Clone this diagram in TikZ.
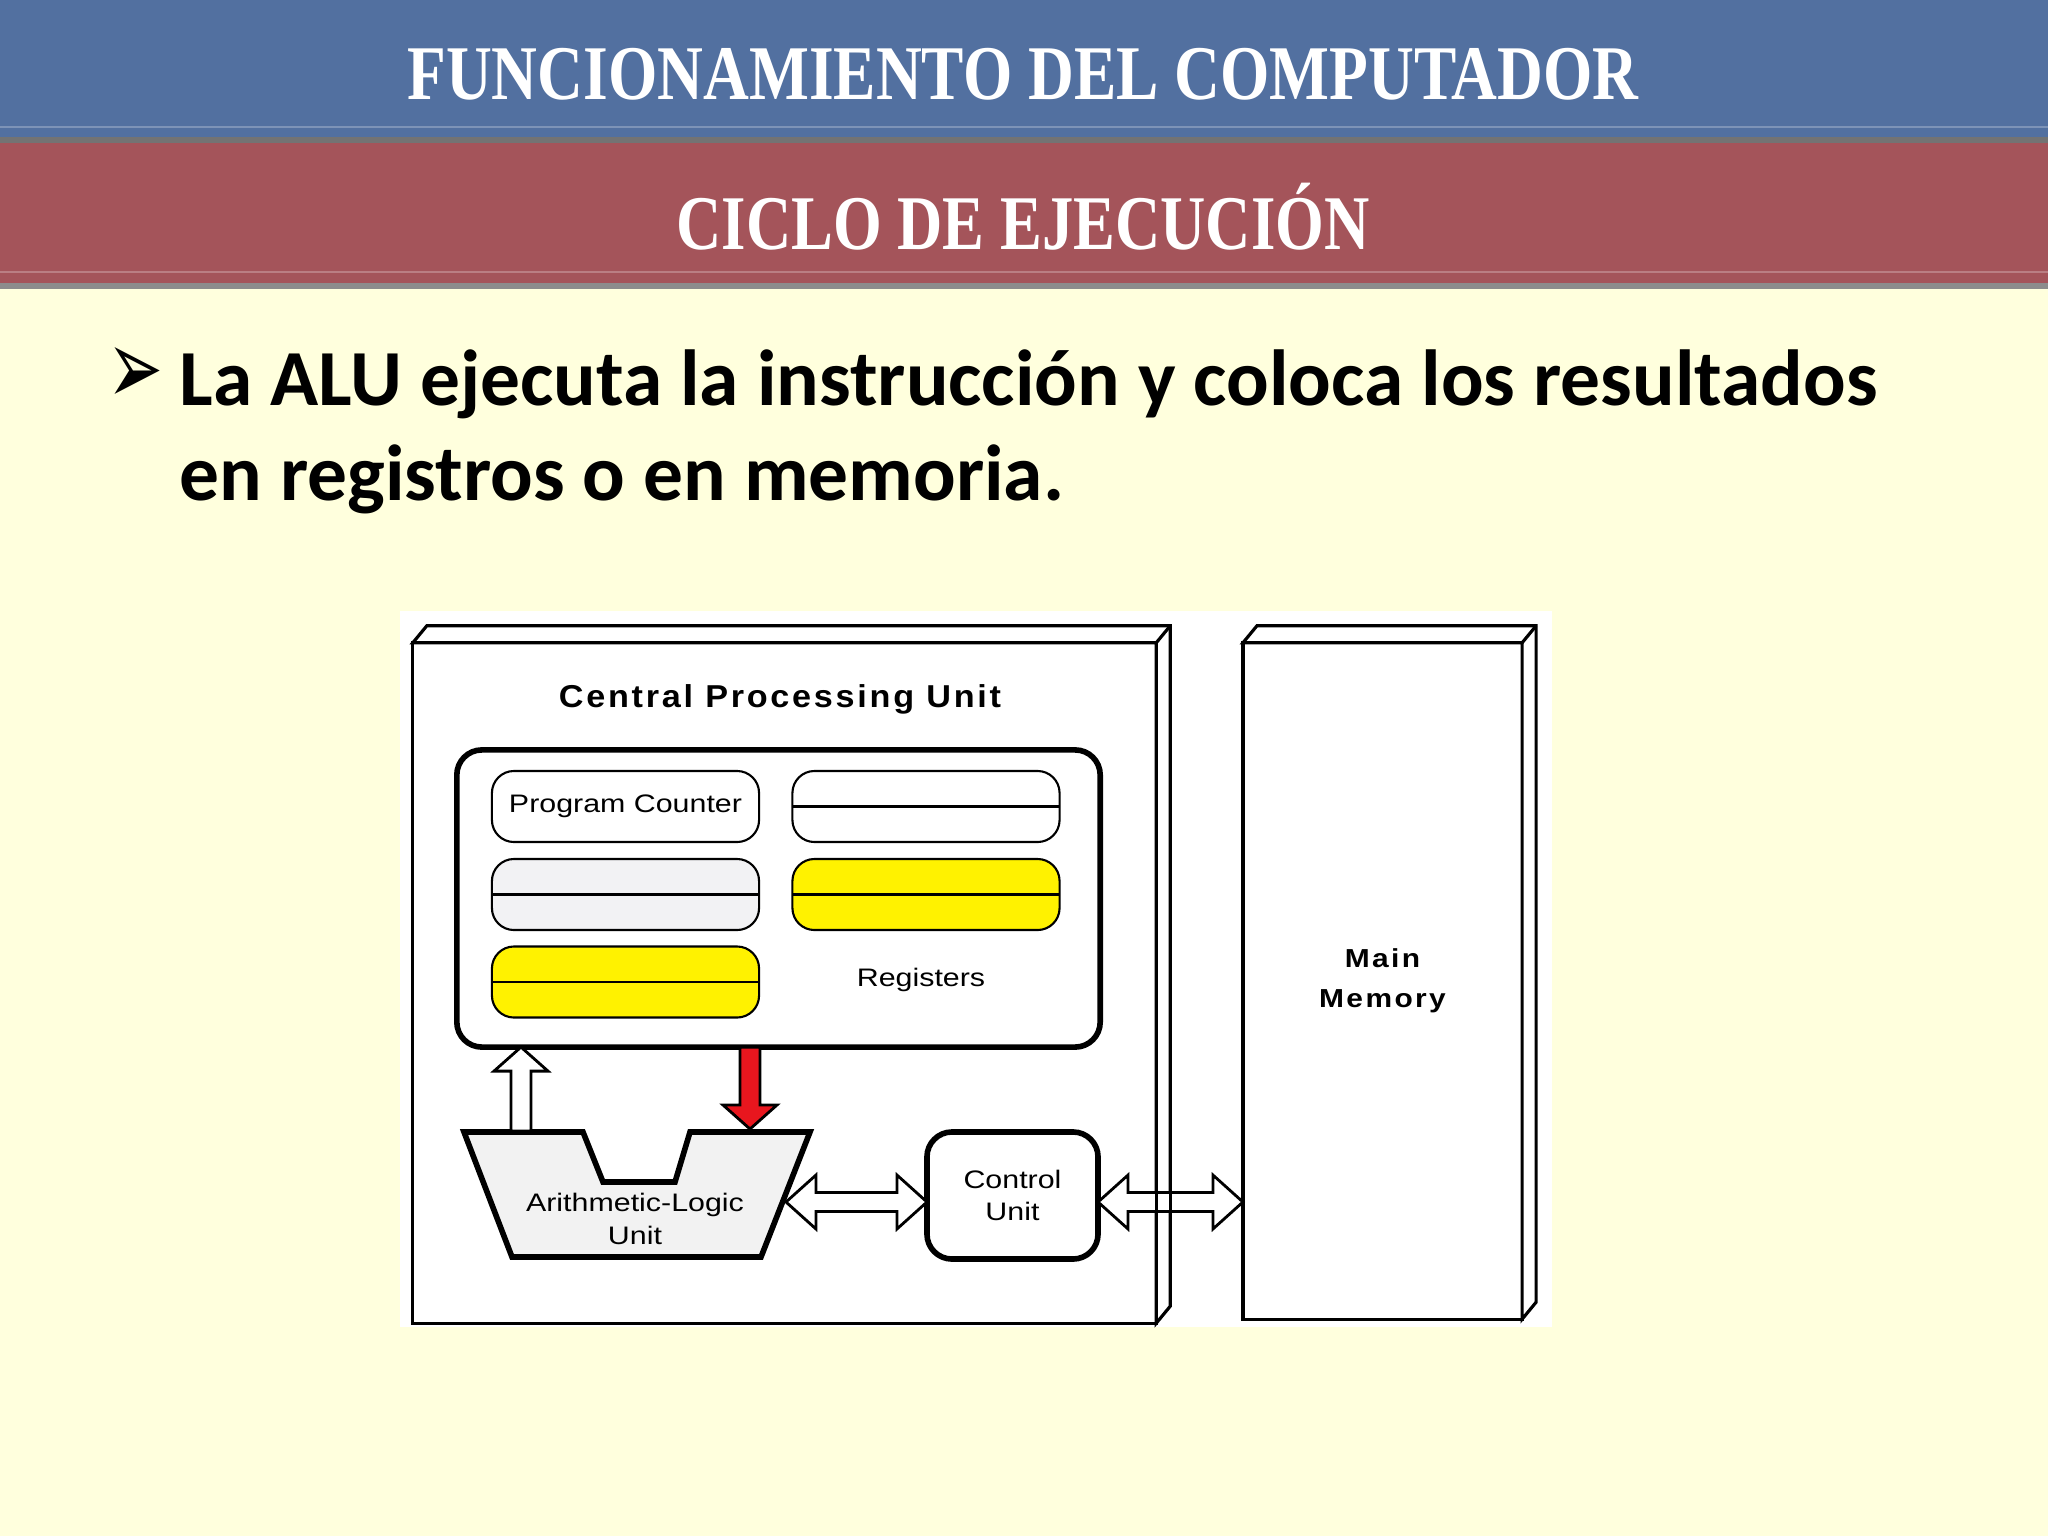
\documentclass[tikz,border=0pt]{standalone}
\usepackage{fontspec}
\setmainfont{Carlito}
\newfontfamily\diagfont{Liberation Sans}
\newfontfamily\spacedfont[LetterSpace=8]{Liberation Sans}
\newfontfamily\titlefont{Liberation Serif}
\newfontfamily\symbfont{DejaVu Sans}
\usetikzlibrary{calc}
\definecolor{slide}{RGB}{255,255,221}
\definecolor{bandblue}{RGB}{82,112,160}
\definecolor{bandred}{RGB}{164,84,90}
\definecolor{regyellow}{RGB}{255,242,0}
\definecolor{reggray}{RGB}{242,242,244}
\definecolor{alugray}{RGB}{242,242,242}
\definecolor{busred}{RGB}{232,22,30}
\tikzset{
  boxline/.style={line width=0.9pt, line join=miter},
  arrowline/.style={line width=0.8pt, line join=miter},
  facebox/.style={boxline, draw, fill=white, outer sep=0pt, inner sep=0pt},
  regpill/.style={draw, line width=0.6pt, rounded corners=0.22cm, minimum width=2.67cm, minimum height=0.71cm, outer sep=0pt, inner sep=0pt},
  lbl/.style={font=\diagfont\fontsize{7.2}{9.3}\selectfont, align=center, xscale=1.2, inner sep=0pt},
  titletext/.style={text=white, font=\titlefont\bfseries\fontsize{22}{22}\selectfont, inner sep=0pt}
}
% depth of a 3d box drawn behind its front face
\newcommand{\drawdepth}[1]{
  \draw[boxline, fill=white] (#1.north west) -- ++(14,-17) -- ($(#1.north east)+(14,-17)$) -- ($(#1.south east)+(14,-17)$) -- (#1.south east) -- (#1.north east) -- cycle;
  \draw[boxline] (#1.north east) -- ++(14,-17);
}
% hollow block arrow from #2 to #3
\newcommand{\blockarrow}[3][white]{
  \path ($(#3)!0.24cm!(#2)$) coordinate (hb);
  \draw[arrowline, fill=#1] ($(#2)!0.1cm!90:(#3)$) -- ($(hb)!0.1cm!90:(#3)$) -- ($(hb)!0.27cm!90:(#3)$) -- (#3) -- ($(hb)!0.27cm!-90:(#3)$) -- ($(hb)!0.1cm!-90:(#3)$) -- ($(#2)!0.1cm!-90:(#3)$) -- cycle;
}
\newcommand{\dblockarrow}[2]{
  \path ($(#1)!0.3cm!(#2)$) coordinate (ha) ($(#2)!0.3cm!(#1)$) coordinate (hb);
  \draw[arrowline, fill=white] (#1) -- ($(ha)!0.27cm!90:(#2)$) -- ($(ha)!0.095cm!90:(#2)$) -- ($(hb)!0.095cm!-90:(#1)$) -- ($(hb)!0.27cm!-90:(#1)$) -- (#2) -- ($(hb)!0.27cm!90:(#1)$) -- ($(hb)!0.095cm!90:(#1)$) -- ($(ha)!0.095cm!-90:(#2)$) -- ($(ha)!0.27cm!-90:(#2)$) -- cycle;
}

\begin{document}
\begin{tikzpicture}[x=0.01cm, y=-0.01cm]
\fill[slide] (0,0) rectangle (2048,1536);
\useasboundingbox (0,0) rectangle (2048,1536);
% header bands
\fill[bandblue] (0,0) rectangle (2048,141);
\fill[bandred] (0,141) rectangle (2048,285);
\draw[white, opacity=0.25, line width=0.6pt] (0,127) -- (2048,127) (0,272) -- (2048,272);
\draw[black!55, line width=1.6pt] (0,140) -- (2048,140);
\draw[black!45, line width=1.8pt] (0,286) -- (2048,286);
\node[titletext, xscale=0.82] (maintitle) at (1023,74) {FUNCIONAMIENTO DEL COMPUTADOR};
\node[titletext, xscale=0.81] (subtitle) at (1023,217) {CICLO DE EJECUCIÓN};
% bullet text
\node[anchor=west, inner sep=0pt, yscale=1.6, font=\symbfont\fontsize{19}{19}\selectfont] (bullet) at (107,376) {➢};
\node[anchor=base west, inner sep=0pt, align=left, font=\fontsize{22.6}{27}\selectfont\bfseries] (bodytext) at (179,500) {La ALU ejecuta la instrucción y coloca los resultados\\en registros o en memoria.};
% diagram
\fill[white] (400,611) rectangle (1552,1327);
\node[facebox, minimum width=7.43cm, minimum height=6.8cm] (cpu) at (784.5,983) {};
\drawdepth{cpu}
\node[facebox, minimum width=2.79cm, minimum height=6.76cm] (mem) at (1382.5,981) {};
\drawdepth{mem}
\node[font=\spacedfont\bfseries\fontsize{7.4}{11.4}\selectfont, align=center, xscale=1.15, inner sep=0pt] (memlabel) at (mem.center) {Main\\Memory};
\node[font=\spacedfont\bfseries\fontsize{9}{9}\selectfont, xscale=1.08, inner sep=0pt] (cputitle) at (780,699) {Central Processing Unit};
\node[draw, line width=1.6pt, rounded corners=0.25cm, minimum width=6.43cm, minimum height=2.97cm, outer sep=0pt] (regs) at (778.5,898.5) {};
\node[regpill, fill=white] (pc) at (625.5,806.5) {};
\node[lbl] (pclabel) at (pc.center) {Program Counter};
\foreach \nm/\x/\y/\col in {rega/926/806.5/white, regb/625.5/894.5/reggray, regc/926/894.5/regyellow, regd/625.5/982/regyellow}{
  \node[regpill, fill=\col] (\nm) at (\x,\y) {};
  \draw[line width=0.6pt] (\nm.west) -- (\nm.east);
}
\node[lbl] (reglabel) at (921,980) {Registers};
% alu
\draw[line width=1.6pt, fill=alugray] (464,1132) -- (583,1132) -- (603,1182) -- (675,1182) -- (690,1132) -- (810,1132) -- (761,1257) -- (512,1257) -- cycle;
\node[lbl] (alu) at (635,1219) {Arithmetic-Logic\\Unit};
\node[draw, line width=1.6pt, rounded corners=0.25cm, minimum width=1.71cm, minimum height=1.27cm, outer sep=0pt, fill=white] (cu) at (1012.5,1195.5) {};
\node[lbl] (culabel) at (cu.center) {Control\\Unit};
% connectors
\coordinate (aluup) at (521,1131);
\coordinate (aluin) at (750,1129);
\coordinate (aluright) at (786,1202);
\blockarrow{aluup}{aluup |- regs.south}
\blockarrow[busred]{aluin |- regs.south}{aluin}
\dblockarrow{aluright}{cu.west |- aluright}
\dblockarrow{cu.east |- aluright}{mem.west |- aluright}
\draw[boxline] (cpu.north east) -- (cpu.south east);
\draw[boxline] ($(cpu.north east)+(14,-17)$) -- ($(cpu.south east)+(14,-17)$);
\end{tikzpicture}
\end{document}
